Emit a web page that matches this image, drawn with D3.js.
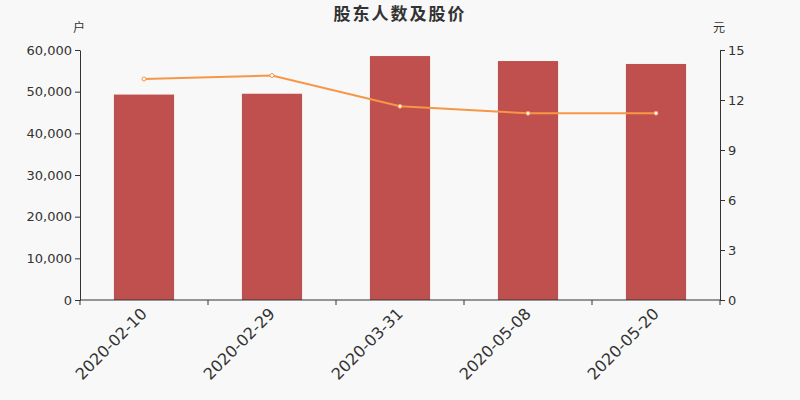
<!DOCTYPE html>
<html lang="zh">
<head>
<meta charset="utf-8">
<title>股东人数及股价</title>
<script src="https://cdn.jsdelivr.net/npm/d3@7/dist/d3.min.js"></script>
<style>
  body { margin: 0; background: #f8f8f8; }
  svg { display: block; font-family: "DejaVu Sans", sans-serif; }
  .axis path, .axis line { stroke: #333; }
  .axis text { fill: #333; font-size: 13px; font-family: "DejaVu Sans", sans-serif; }
</style>
</head>
<body>
<script>
// data
var dates = ["2020-02-10", "2020-02-29", "2020-03-31", "2020-05-08", "2020-05-20"];
var holders = [49300, 49500, 58550, 57350, 56650];
var prices = [13.26, 13.47, 11.62, 11.2, 11.21];
var leftTicks = [0, 10000, 20000, 30000, 40000, 50000, 60000];
var rightTicks = [0, 3, 6, 9, 12, 15];

var w = 800, h = 400;
var padL = 80, padR = 720, padT = 50, padB = 300;

var svg = d3.select("body").append("svg")
    .attr("width", w)
    .attr("height", h);

svg.append("rect").attr("width", w).attr("height", h).attr("fill", "#f8f8f8");

var xScale = d3.scaleBand()
    .domain(dates)
    .range([padL, padR])
    .paddingInner(0.53)
    .paddingOuter(0.265);

var xBand = d3.scaleBand().domain(dates).range([padL, padR]);

var yLeft = d3.scaleLinear().domain([0, 60000]).range([padB, padT]);
var yRight = d3.scaleLinear().domain([0, 15]).range([padB, padT]);

// bars
svg.selectAll("rect.bar")
    .data(holders)
    .enter()
    .append("rect")
    .attr("class", "bar")
    .attr("x", function(d, i) { return xScale(dates[i]); })
    .attr("y", function(d) { return yLeft(d); })
    .attr("width", xScale.bandwidth())
    .attr("height", function(d) { return padB - yLeft(d); })
    .attr("fill", "#c0504d");

// price line
var line = d3.line()
    .x(function(d, i) { return xBand(dates[i]) + xBand.bandwidth() / 2; })
    .y(function(d) { return yRight(d); });

svg.append("path")
    .datum(prices)
    .attr("d", line)
    .attr("fill", "none")
    .attr("stroke", "#f79646")
    .attr("stroke-width", 2);

svg.selectAll("circle.pt")
    .data(prices)
    .enter()
    .append("circle")
    .attr("class", "pt")
    .attr("cx", function(d, i) { return xBand(dates[i]) + xBand.bandwidth() / 2; })
    .attr("cy", function(d) { return yRight(d); })
    .attr("r", 2)
    .attr("fill", "#fff")
    .attr("stroke", "#f79646")
    .attr("stroke-width", 1);

// axes
var xAxis = d3.axisBottom(xBand).tickSize(0).tickFormat("");
var gx = svg.append("g")
    .attr("class", "axis")
    .attr("transform", "translate(0," + padB + ")")
    .call(xAxis);
gx.select(".domain").attr("d", "M" + padL + ",0H" + padR);

// tick marks on band boundaries
gx.selectAll("line.sep")
    .data(dates.concat(["end"]))
    .enter()
    .append("line")
    .attr("class", "sep")
    .attr("x1", function(d, i) { return padL + i * xBand.step(); })
    .attr("x2", function(d, i) { return padL + i * xBand.step(); })
    .attr("y1", 0)
    .attr("y2", 5);

gx.selectAll("text.lab")
    .data(dates)
    .enter()
    .append("text")
    .attr("class", "lab")
    .attr("transform", function(d) {
        var x = xBand(d) + xBand.bandwidth() / 2 - 4;
        return "translate(" + x + ",7) rotate(-45)";
    })
    .attr("text-anchor", "end")
    .attr("dy", "0.7em")
    .style("font-size", "16px")
    .text(function(d) { return d; });

var yAxisL = d3.axisLeft(yLeft)
    .tickValues(leftTicks)
    .tickSize(5)
    .tickSizeOuter(0)
    .tickFormat(d3.format(","));
svg.append("g")
    .attr("class", "axis")
    .attr("transform", "translate(" + padL + ",0)")
    .call(yAxisL);

var yAxisR = d3.axisRight(yRight)
    .tickValues(rightTicks)
    .tickSize(5)
    .tickSizeOuter(0);
svg.append("g")
    .attr("class", "axis")
    .attr("transform", "translate(" + padR + ",0)")
    .call(yAxisR);

// unit labels
svg.append("text")
    .attr("x", 79).attr("y", 32)
    .attr("text-anchor", "middle")
    .style("font-size", "12px").attr("fill", "#333")
    .style("font-family", "'Noto Sans CJK SC', sans-serif")
    .text("户");
svg.append("text")
    .attr("x", 719).attr("y", 32)
    .attr("text-anchor", "middle")
    .style("font-size", "12px").attr("fill", "#333")
    .style("font-family", "'Noto Sans CJK SC', sans-serif")
    .text("元");

// title
svg.append("text")
    .attr("x", 400).attr("y", 20)
    .attr("text-anchor", "middle")
    .style("font-size", "17px")
    .style("font-weight", "bold")
    .style("letter-spacing", "2px")
    .style("font-family", "'Noto Sans CJK SC', sans-serif")
    .attr("fill", "#333")
    .text("股东人数及股价");
</script>
</body>
</html>
